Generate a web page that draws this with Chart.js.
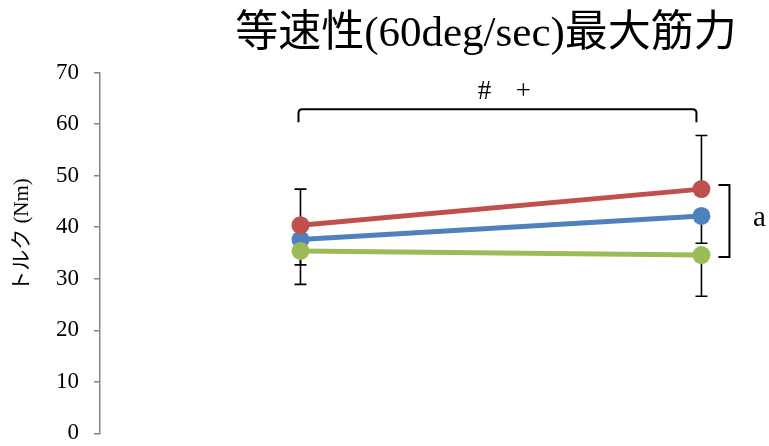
<!DOCTYPE html>
<html>
<head>
<meta charset="utf-8">
<script src="https://cdn.jsdelivr.net/npm/chart.js@4"></script>
<style>
    body { margin: 0; background: #fff; }
    .wrap { width: 769px; height: 446px; position: relative; }
</style>
</head>
<body>
<div class="wrap"><canvas id="myChart"></canvas></div>
<script>
// data
var timePoints = [1, 2];
var redValues = [40.4, 47.4];
var blueValues = [37.6, 42.2];
var greenValues = [35.4, 34.6];
var redErrUp = [7.0, 10.4];
var blueErrDown = [4.9, 5.3];
var greenErrDown = [6.5, 8.0];
var yTicks = [0, 10, 20, 30, 40, 50, 60, 70];

var chartTitle = '等速性(60deg/sec)最大筋力';
var yTitle = 'トルク (Nm)';
var topMarks = ['#', '+'];
var sideMark = 'a';

var serif = '"Liberation Serif", "Noto Sans CJK JP", serif';

function toPoints(values) {
    return timePoints.map(function (t, i) { return { x: t, y: values[i] }; });
}

function drawErrBar(ctx, xs, ys, x, from, to) {
    var px = xs.getPixelForValue(x);
    var p1 = ys.getPixelForValue(from);
    var p2 = ys.getPixelForValue(to);
    ctx.beginPath();
    ctx.moveTo(px, p1);
    ctx.lineTo(px, p2);
    ctx.moveTo(px - 6, p2);
    ctx.lineTo(px + 6, p2);
    ctx.stroke();
}

var extras = {
    id: 'extras',
    beforeDatasetsDraw: function (chart) {
        var ctx = chart.ctx;
        var xs = chart.scales.x, ys = chart.scales.y;
        ctx.save();
        ctx.strokeStyle = '#000';
        ctx.lineWidth = 1.6;
        timePoints.forEach(function (t, i) {
            drawErrBar(ctx, xs, ys, t, redValues[i], redValues[i] + redErrUp[i]);
            drawErrBar(ctx, xs, ys, t, blueValues[i], blueValues[i] - blueErrDown[i]);
            drawErrBar(ctx, xs, ys, t, greenValues[i], greenValues[i] - greenErrDown[i]);
        });
        ctx.restore();
    },
    afterDraw: function (chart) {
        var ctx = chart.ctx;
        var xs = chart.scales.x, ys = chart.scales.y;
        ctx.save();
        ctx.fillStyle = '#000';
        ctx.textAlign = 'center';
        ctx.textBaseline = 'middle';

        // title
        ctx.font = '43px ' + serif;
        ctx.fillText(chartTitle, 486, 35);

        // y axis title
        ctx.save();
        ctx.translate(22, 235);
        ctx.rotate(-Math.PI / 2);
        ctx.font = '21px ' + serif;
        ctx.fillText(yTitle, 0, 0);
        ctx.restore();

        // top bracket between the two time points
        var x1 = xs.getPixelForValue(timePoints[0]) - 2;
        var x2 = xs.getPixelForValue(timePoints[1]) - 5;
        var yt = ys.getPixelForValue(62.9);
        var yb = ys.getPixelForValue(60.4);
        var r = 4;
        ctx.strokeStyle = '#000';
        ctx.lineWidth = 2;
        ctx.beginPath();
        ctx.moveTo(x1, yb);
        ctx.lineTo(x1, yt + r);
        ctx.quadraticCurveTo(x1, yt, x1 + r, yt);
        ctx.lineTo(x2 - r, yt);
        ctx.quadraticCurveTo(x2, yt, x2, yt + r);
        ctx.lineTo(x2, yb);
        ctx.stroke();
        ctx.font = '27px ' + serif;
        var mid = (x1 + x2) / 2;
        ctx.fillText(topMarks[0], mid - 13, ys.getPixelForValue(66.2));
        ctx.fillText(topMarks[1], mid + 26, ys.getPixelForValue(66.2));

        // side bracket at the second time point
        var xa = xs.getPixelForValue(timePoints[1]) + 17;
        var xv = xs.getPixelForValue(timePoints[1]) + 28;
        var ya = ys.getPixelForValue(48.2);
        var yc = ys.getPixelForValue(34.2);
        ctx.beginPath();
        ctx.moveTo(xa, ya);
        ctx.lineTo(xv, ya);
        ctx.lineTo(xv, yc);
        ctx.lineTo(xa, yc);
        ctx.stroke();
        ctx.font = '29px ' + serif;
        ctx.fillText(sideMark, xv + 30, ys.getPixelForValue(41.8));
        ctx.restore();
    }
};

var ctx = document.getElementById('myChart').getContext('2d');
var myChart = new Chart(ctx, {
    type: 'line',
    data: {
        datasets: [{
            label: 'red',
            data: toPoints(redValues),
            borderColor: '#C0504D',
            backgroundColor: '#C0504D',
            order: 2
        }, {
            label: 'blue',
            data: toPoints(blueValues),
            borderColor: '#4F81BD',
            backgroundColor: '#4F81BD',
            order: 3
        }, {
            label: 'green',
            data: toPoints(greenValues),
            borderColor: '#9BBB59',
            backgroundColor: '#9BBB59',
            order: 1
        }]
    },
    options: {
        responsive: true,
        maintainAspectRatio: false,
        animation: false,
        layout: { padding: { top: 72.7, bottom: 12.7, left: 0, right: 9 } },
        elements: {
            line: { borderWidth: 5, tension: 0 },
            point: { radius: 9, borderWidth: 0, hoverRadius: 9 }
        },
        plugins: {
            legend: { display: false },
            tooltip: { enabled: false },
            title: { display: false }
        },
        scales: {
            x: {
                type: 'linear',
                display: false,
                min: 0.5,
                max: 2.146
            },
            y: {
                min: 0,
                max: 70,
                afterFit: function (axis) {
                    axis.width = 100;
                    // tick padding shouldn't push the plot area up
                    axis.paddingTop = 0;
                    axis.paddingBottom = 0;
                },
                afterBuildTicks: function (axis) {
                    axis.ticks = yTicks.map(function (v) { return { value: v }; });
                },
                grid: {
                    drawOnChartArea: false,
                    drawTicks: true,
                    tickLength: 6,
                    color: '#868686',
                    lineWidth: 1.5
                },
                border: { display: true, color: '#868686', width: 1.5 },
                ticks: {
                    padding: 15,
                    color: '#000',
                    font: { family: serif, size: 23 }
                }
            }
        }
    },
    plugins: [extras]
});
</script>
</body>
</html>
